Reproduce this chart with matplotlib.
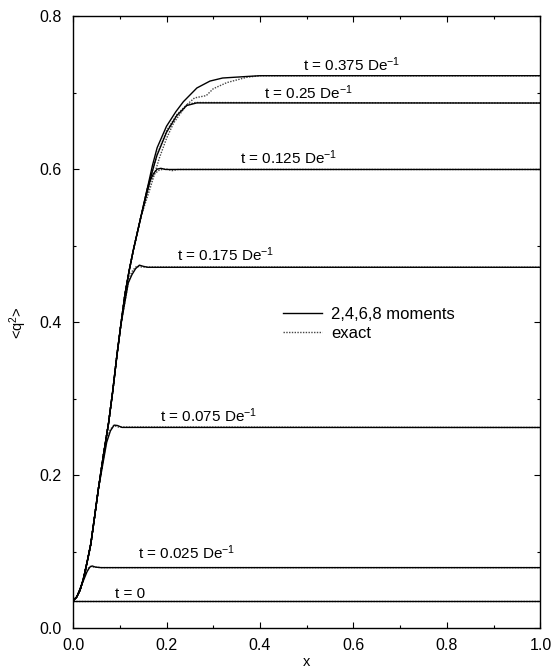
#!/usr/bin/env python3
"""Second moment <q^2> vs x: 2,4,6,8 moment closure against the exact solution."""

import matplotlib
matplotlib.use("Agg")
import matplotlib.pyplot as plt
from matplotlib.ticker import MultipleLocator

# common rising branch (t = 0.375 solid follows it all the way)
RISE_X = [0.000, 0.008, 0.015, 0.022, 0.030, 0.038, 0.046, 0.054, 0.065, 0.076,
          0.085, 0.094, 0.102, 0.111, 0.120, 0.129, 0.145, 0.158, 0.170, 0.180,
          0.200, 0.220, 0.236, 0.265, 0.293, 0.320, 0.372, 0.400, 1.000]
RISE_Y = [0.036, 0.041, 0.050, 0.064, 0.086, 0.110, 0.145, 0.181, 0.226, 0.268,
          0.310, 0.357, 0.395, 0.436, 0.467, 0.494, 0.537, 0.572, 0.605, 0.628,
          0.656, 0.675, 0.688, 0.706, 0.715, 0.719, 0.721, 0.722, 0.722]

TIMES = ["0", "0.025", "0.075", "0.175", "0.125", "0.25", "0.375"]

# x where each curve leaves the common branch
DEPART = [0.0, 0.015, 0.065, 0.111, 0.158, 0.170, 1.1]

# tails after leaving the branch: moments closure
MOM_TAIL_X = [
    [0.0, 1.0],
    [0.022, 0.030, 0.036, 0.041, 0.048, 0.060, 1.0],
    [0.072, 0.080, 0.088, 0.095, 0.105, 1.0],
    [0.118, 0.126, 0.134, 0.142, 0.150, 0.160, 1.0],
    [0.165, 0.172, 0.180, 0.188, 0.198, 1.0],
    [0.179, 0.200, 0.222, 0.243, 0.265, 1.0],
    [],
]
MOM_TAIL_Y = [
    [0.0357, 0.0357],
    [0.062, 0.074, 0.080, 0.0815, 0.080, 0.0793, 0.0793],
    [0.243, 0.258, 0.2655, 0.265, 0.2625, 0.2624],
    [0.451, 0.462, 0.470, 0.4745, 0.473, 0.4717, 0.4717],
    [0.585, 0.594, 0.600, 0.601, 0.5995, 0.5995],
    [0.617, 0.648, 0.670, 0.683, 0.6865, 0.6863],
    [],
]

# exact solution
EXACT_DEPART = [0.0, 0.015, 0.065, 0.111, 0.158, 0.170, 0.150]
EXACT_TAIL_X = [
    [0.0, 1.0],
    [0.022, 0.030, 0.037, 0.045, 0.060, 1.0],
    [0.072, 0.080, 0.087, 0.097, 1.0],
    [0.120, 0.128, 0.136, 0.148, 1.0],
    [0.165, 0.175, 0.185, 0.200, 0.212, 0.225, 1.0],
    [0.180, 0.200, 0.222, 0.243, 0.262, 1.0],
    [0.165, 0.185, 0.200, 0.215, 0.229, 0.245, 0.260, 0.285, 0.300, 0.329, 0.372, 0.400, 1.0],
]
EXACT_TAIL_Y = [
    [0.0357, 0.0357],
    [0.063, 0.077, 0.081, 0.080, 0.0793, 0.0793],
    [0.247, 0.260, 0.265, 0.263, 0.2624],
    [0.458, 0.468, 0.473, 0.472, 0.4717],
    [0.583, 0.594, 0.599, 0.600, 0.598, 0.5995, 0.5995],
    [0.619, 0.650, 0.671, 0.684, 0.687, 0.6863],
    [0.575, 0.615, 0.640, 0.660, 0.672, 0.685, 0.693, 0.696, 0.705, 0.713, 0.720, 0.722, 0.722],
]

LABEL_X = [0.090, 0.140, 0.186, 0.222, 0.357, 0.409, 0.492]
LABEL_Y = [0.040, 0.0903, 0.269, 0.4795, 0.606, 0.691, 0.728]


def build(depart, tail_x, tail_y):
    if depart <= 0.0:
        return tail_x, tail_y
    if not tail_x:
        return RISE_X, RISE_Y
    xs = [x for x in RISE_X if x < depart]
    ys = [y for x, y in zip(RISE_X, RISE_Y) if x < depart]
    return xs + tail_x, ys + tail_y


def main():
    plt.rcParams.update({
        "font.family": ["Liberation Sans", "DejaVu Sans"],
        "font.size": 11,
        "mathtext.default": "regular",
    })

    fig = plt.figure(figsize=(5.54, 6.70), dpi=100)
    ax = fig.add_axes([0.1318, 0.0622, 0.8438, 0.9139])

    for i, t in enumerate(TIMES):
        ex, ey = build(EXACT_DEPART[i], EXACT_TAIL_X[i], EXACT_TAIL_Y[i])
        ax.plot(ex, ey, color="#444444", lw=1.0, linestyle=(0, (1, 1)),
                label="exact" if i == 0 else None, zorder=2)
    for i, t in enumerate(TIMES):
        mx, my = build(DEPART[i], MOM_TAIL_X[i], MOM_TAIL_Y[i])
        ax.plot(mx, my, color="black", lw=1.0,
                label="2,4,6,8 moments" if i == 0 else None, zorder=3)
        if t == "0":
            txt = "t = 0"
        else:
            txt = f"t = {t} De$^{{-1}}$"
        ax.text(LABEL_X[i], LABEL_Y[i], txt, ha="left", va="baseline", fontsize=11)

    handles, labels = ax.get_legend_handles_labels()
    order = [1, 0]
    ax.legend([handles[k] for k in order], [labels[k] for k in order],
              frameon=False, loc="upper left", bbox_to_anchor=(0.4486, 0.5246),
              borderpad=0, borderaxespad=0, fontsize=12,
              handlelength=2.35, handletextpad=0.56, labelspacing=0.25)

    ax.set_xlim(0, 1)
    ax.set_ylim(0, 0.8)
    ax.xaxis.set_major_locator(MultipleLocator(0.2))
    ax.xaxis.set_minor_locator(MultipleLocator(0.1))
    ax.yaxis.set_major_locator(MultipleLocator(0.2))
    ax.yaxis.set_minor_locator(MultipleLocator(0.1))
    ax.xaxis.set_major_formatter(lambda v, p: f"{v:.1f}")
    ax.yaxis.set_major_formatter(lambda v, p: f"{v:.1f}")
    ax.tick_params(which="both", direction="in", top=True, right=True, width=0.8,
                   labelsize=11.5)
    ax.tick_params(which="major", length=4.5)
    ax.tick_params(which="minor", length=2.5)
    ax.tick_params(axis="x", pad=7)
    ax.tick_params(axis="y", pad=8)
    for sp in ax.spines.values():
        sp.set_linewidth(1.0)

    ax.set_xlabel("x", fontsize=10.5)
    ax.set_ylabel("<q$^2$>", fontsize=10.5)
    ax.xaxis.set_label_coords(0.5, -0.043)
    ax.yaxis.set_label_coords(-0.094, 0.5)

    fig.savefig("out.png", dpi=100)
    plt.close(fig)


if __name__ == "__main__":
    main()
